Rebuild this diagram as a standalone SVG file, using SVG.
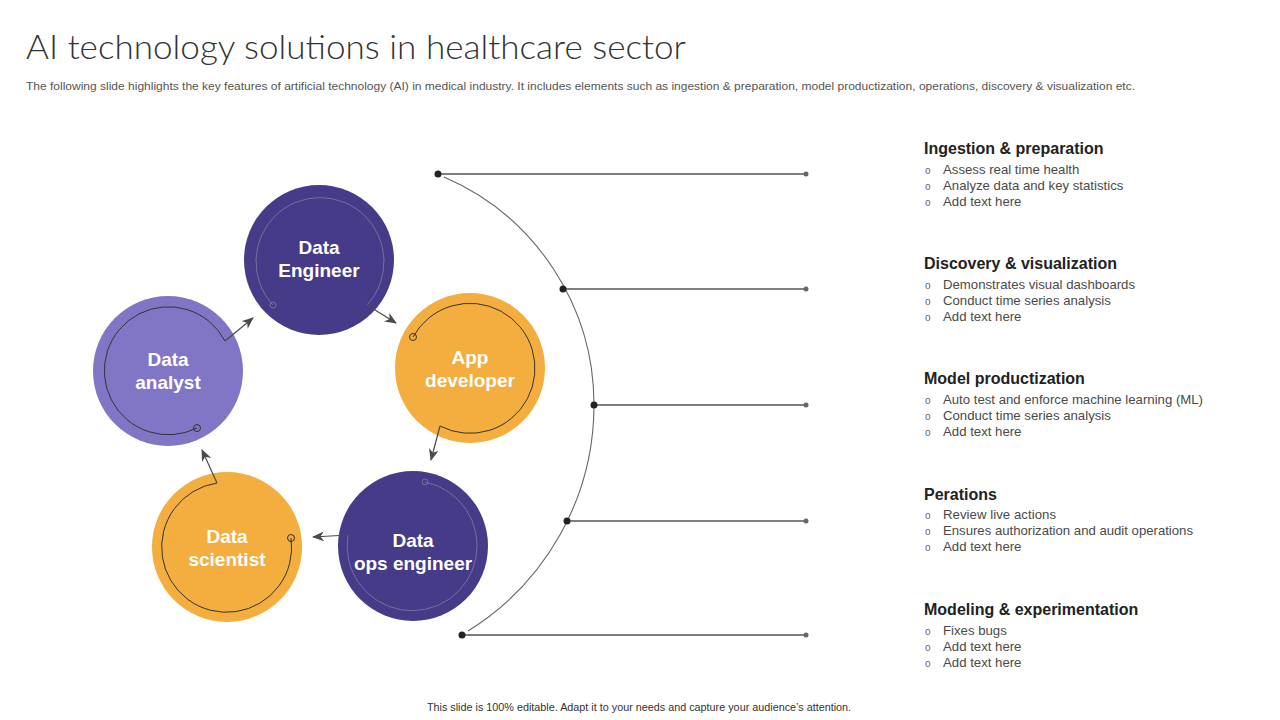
<svg xmlns="http://www.w3.org/2000/svg" width="1280" height="720" viewBox="0 0 1280 720">
<defs>
<marker id="arr" viewBox="0 0 12 10" refX="11" refY="5" markerWidth="12" markerHeight="10" markerUnits="userSpaceOnUse" orient="auto">
<path d="M0,0 L12,5 L0,10 L3.5,5 z" fill="#4a4a4a"/>
</marker>
</defs>
<style>
.t{font-family:"Liberation Sans",Arial,sans-serif}
.title{font-family:Lato,"Liberation Sans",sans-serif;font-size:34px;fill:#333;font-weight:300}
.sub{font-size:11px;fill:#555}
.foot{font-size:10.8px;fill:#333}
.node{font-size:19px;font-weight:bold;fill:#fff;text-anchor:middle}
.h{font-size:16px;font-weight:bold;fill:#222}
.b{font-size:13.2px;fill:#4a4a4a}
.bul{font-size:10px;fill:#666}
.ringD{fill:none;stroke:#75719a;stroke-width:1}
.ringL{fill:none;stroke:#333;stroke-width:1}
.conn{fill:none;stroke:#4a4a4a;stroke-width:1.2}
.hl{stroke:#555;stroke-width:1.3}
.dot{fill:#222}
.edot{fill:#666}
.purple{fill:#463B89}
.orange{fill:#F4AD3F}
.lpurple{fill:#8176C5}
</style>
<rect width="1280" height="720" fill="#fff"/>
<text class="title" x="26" y="59" textLength="660" lengthAdjust="spacingAndGlyphs">AI technology solutions in healthcare sector</text>
<text class="t sub" x="26" y="90" textLength="1109" lengthAdjust="spacingAndGlyphs">The following slide highlights the key features of artificial technology (AI)  in medical industry. It includes elements such as ingestion &amp; preparation, model productization, operations, discovery &amp; visualization etc.</text>

<g id="node-data-engineer">
<circle class="purple" cx="319" cy="260" r="75"/>
<circle cx="273" cy="305" r="3" fill="#463B89" stroke="#75719a" stroke-width="1"/>
<path class="ringD" d="M273,305 A64,64 0 1 1 367,305"/>
<text class="t node" x="319" y="254">Data</text>
<text class="t node" x="319" y="277">Engineer</text>
</g>
<g id="node-app-developer">
<circle class="orange" cx="470" cy="368" r="75"/>
<circle cx="413" cy="337" r="3.5" fill="#F4AD3F" stroke="#333" stroke-width="1"/>
<path class="ringL" d="M413,337 A65,65 0 1 1 440,426"/>
<text class="t node" x="470" y="364" fill="#FFF6E6">App</text>
<text class="t node" x="470" y="387" fill="#FFF6E6">developer</text>
</g>
<g id="node-data-ops-engineer">
<circle class="purple" cx="413" cy="546" r="75"/>
<circle cx="425" cy="482" r="3" fill="#463B89" stroke="#75719a" stroke-width="1"/>
<path class="ringD" d="M425,482 A65,65 0 1 1 348,535"/>
<text class="t node" x="413" y="547">Data</text>
<text class="t node" x="413" y="570">ops engineer</text>
</g>
<g id="node-data-scientist">
<circle class="orange" cx="227" cy="547" r="75"/>
<circle cx="291" cy="538" r="3.5" fill="#F4AD3F" stroke="#333" stroke-width="1"/>
<path class="ringL" d="M291,538 A65,65 0 1 1 217,483"/>
<text class="t node" x="227" y="543">Data</text>
<text class="t node" x="227" y="566">scientist</text>
</g>
<g id="node-data-analyst">
<circle class="lpurple" cx="168" cy="371" r="75"/>
<circle cx="197" cy="428" r="3.5" fill="#8176C5" stroke="#333" stroke-width="1"/>
<path class="ringL" d="M197,428 A64,64 0 1 1 225,341"/>
<text class="t node" x="168" y="366">Data</text>
<text class="t node" x="168" y="389">analyst</text>
</g>

<g id="connectors">
<path class="conn" d="M367,305 L396,323" marker-end="url(#arr)"/>
<path class="conn" d="M440,426 L431,460" marker-end="url(#arr)"/>
<path class="conn" d="M348,535 L313,537" marker-end="url(#arr)"/>
<path class="conn" d="M217,483 L202,450" marker-end="url(#arr)"/>
<path class="conn" d="M225,341 L253,318" marker-end="url(#arr)"/>
<path fill="none" stroke="#666" stroke-width="1.1" d="M444,177 A248,248 0 0 1 594,405 A266,266 0 0 1 468,631"/>
<line class="hl" x1="438" y1="174" x2="806" y2="174"/>
<line class="hl" x1="563" y1="289" x2="806" y2="289"/>
<line class="hl" x1="594" y1="405" x2="806" y2="405"/>
<line class="hl" x1="567" y1="521" x2="806" y2="521"/>
<line class="hl" x1="462" y1="635" x2="806" y2="635"/>
<circle class="dot" cx="438" cy="174" r="3.5"/>
<circle class="dot" cx="563" cy="289" r="3.5"/>
<circle class="dot" cx="594" cy="405" r="3.5"/>
<circle class="dot" cx="567" cy="521" r="3.5"/>
<circle class="dot" cx="462" cy="635" r="3.5"/>
<circle class="edot" cx="806" cy="174" r="2.5"/>
<circle class="edot" cx="806" cy="289" r="2.5"/>
<circle class="edot" cx="806" cy="405" r="2.5"/>
<circle class="edot" cx="806" cy="521" r="2.5"/>
<circle class="edot" cx="806" cy="635" r="2.5"/>
</g>

<g id="text-ingestion">
<text class="t h" x="924" y="154">Ingestion &amp; preparation</text>
<text class="t bul" x="925" y="174">o</text><text class="t b" x="943" y="174">Assess real time health</text>
<text class="t bul" x="925" y="190">o</text><text class="t b" x="943" y="190">Analyze data and key statistics</text>
<text class="t bul" x="925" y="206">o</text><text class="t b" x="943" y="206">Add text here</text>
</g>
<g id="text-discovery">
<text class="t h" x="924" y="269">Discovery &amp; visualization</text>
<text class="t bul" x="925" y="289">o</text><text class="t b" x="943" y="289">Demonstrates visual dashboards</text>
<text class="t bul" x="925" y="305">o</text><text class="t b" x="943" y="305">Conduct time series analysis</text>
<text class="t bul" x="925" y="321">o</text><text class="t b" x="943" y="321">Add text here</text>
</g>
<g id="text-model">
<text class="t h" x="924" y="384">Model productization</text>
<text class="t bul" x="925" y="404">o</text><text class="t b" x="943" y="404" textLength="260">Auto test and enforce machine learning (ML)</text>
<text class="t bul" x="925" y="420">o</text><text class="t b" x="943" y="420">Conduct time series analysis</text>
<text class="t bul" x="925" y="436">o</text><text class="t b" x="943" y="436">Add text here</text>
</g>
<g id="text-perations">
<text class="t h" x="924" y="500">Perations</text>
<text class="t bul" x="925" y="519">o</text><text class="t b" x="943" y="519" textLength="113">Review live actions</text>
<text class="t bul" x="925" y="535">o</text><text class="t b" x="943" y="535" textLength="250">Ensures authorization and audit operations</text>
<text class="t bul" x="925" y="551">o</text><text class="t b" x="943" y="551">Add text here</text>
</g>
<g id="text-modeling">
<text class="t h" x="924" y="615">Modeling &amp; experimentation</text>
<text class="t bul" x="925" y="635">o</text><text class="t b" x="943" y="635">Fixes bugs</text>
<text class="t bul" x="925" y="651">o</text><text class="t b" x="943" y="651">Add text here</text>
<text class="t bul" x="925" y="667">o</text><text class="t b" x="943" y="667">Add text here</text>
</g>

<text class="t foot" x="639" y="711" text-anchor="middle">This slide is 100% editable.  Adapt it to your needs and capture your audience’s attention.</text>
</svg>
